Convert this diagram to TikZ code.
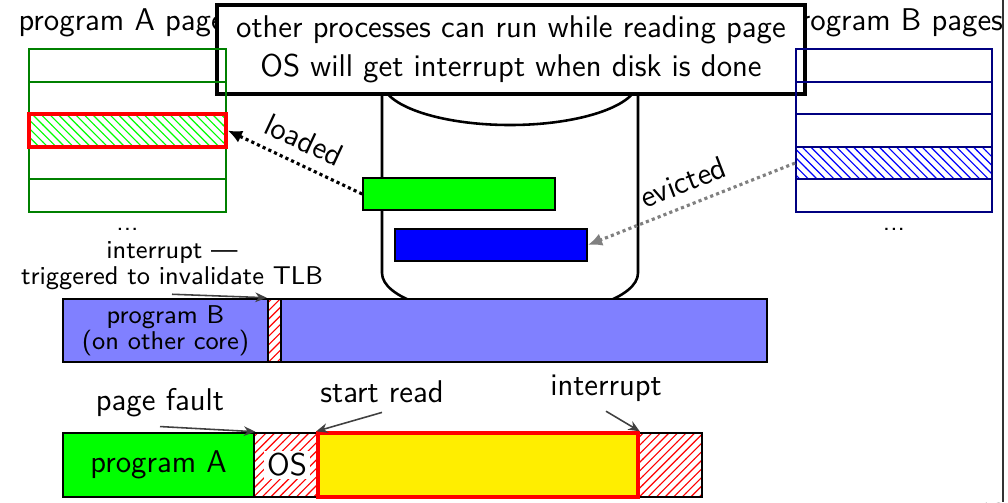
\documentclass[tikz,border=0pt]{standalone}
\usepackage{fontspec}
\usetikzlibrary{patterns,arrows.meta}
% one drawing unit = one pixel of the slide
\def\pxu{0.35pt}
\definecolor{readyellow}{RGB}{255,238,0}
\begin{document}
\begin{tikzpicture}[x=0.35pt,y=-0.35pt,
  every node/.style={font=\sffamily\fontsize{11}{13.65}\selectfont},
  smalltext/.style={font=\sffamily\fontsize{9}{9.1}\selectfont},
  pageA/.style={draw=green!50!black, line width=0.7pt},
  pageB/.style={draw=blue!50!black, line width=0.7pt},
  seg/.style={draw, line width=0.9pt, inner sep=0pt, minimum height={64*\pxu}},
  hatch/.style={preaction={fill=white}, pattern=north east lines, pattern color=red},
  pointer/.style={draw=black!75, line width=0.55pt, -{Stealth[length=4pt,width=3.4pt]}},
  moved/.style={line width=1.1pt, dash pattern=on 1.1pt off 1.1pt, -{Latex[length=5pt,width=4.5pt]}},
]
\useasboundingbox (0,0) rectangle (1008,502);

% slide edge and page number
\draw[black!80, line width=0.5pt] (1003,0) -- (1003,502);
\node[smalltext, text=black!60, anchor=north] (pagenum) at (992,493) {18};

% table titles (partly hidden under the note)
\node[anchor=base] (titleA) at (127.5,30) {program A pages};
\node[anchor=base] (titleB) at (894,30) {program B pages};

% disk
\path[draw, fill=white, line width=0.9pt]
  (382,81) -- (382,273) arc[start angle=180, end angle=0, x radius=128, y radius=44]
  -- (638,81) arc[start angle=0, end angle=-180, x radius=128, y radius=44] -- cycle;
\draw[line width=0.9pt] (382,81) arc[start angle=180, end angle=0, x radius=128, y radius=44];
\node[draw, fill=green, line width=0.6pt, inner sep=0pt,
      minimum width={192*\pxu}, minimum height={32*\pxu}] (diskA) at (459,194) {};
\node[draw, fill=blue, line width=0.6pt, inner sep=0pt,
      minimum width={192*\pxu}, minimum height={32*\pxu}] (diskB) at (491,245) {};

% note
\node[draw, line width=1.1pt, fill=white, align=center, inner sep=0pt,
      minimum width={588*\pxu}, minimum height={89*\pxu}] (note) at (511,49.5)
  {other processes can run while reading page\\OS will get interrupt when disk is done};

% page tables
\foreach \r in {0,...,4}{
  \draw[pageA] (29,{49+32.6*\r}) rectangle (226,{49+32.6*(\r+1)});
  \draw[pageB] (796,{49+32.6*\r}) rectangle (992,{49+32.6*(\r+1)});
}
\node[draw=red, line width=1.2pt, pattern=north west lines, pattern color=green, inner sep=0pt,
      minimum width={197*\pxu}, minimum height={32.6*\pxu}] (rowA) at (127.5,130.5) {};
\node[pageB, pattern=north west lines, pattern color=blue, inner sep=0pt,
      minimum width={196*\pxu}, minimum height={32.6*\pxu}] (rowB) at (894,163.1) {};
\node[smalltext] (moreA) at (127.5,229) {...};
\node[smalltext] (moreB) at (894,229) {...};

% page moves
\draw[moved, draw=black] (diskA.west) -- (rowA.east);
\node[rotate=-25] (lblLoaded) at (304,140) {loaded};
\draw[moved, draw=black!50] (rowB.west) -- (diskB.east);
\node[rotate=21] (lblEvicted) at (683,182) {evicted};

% program B on the other core
\node[seg, fill=blue!50, minimum width={704*\pxu}, minimum height={63*\pxu}] (barB) at (415,330.5) {};
\node[seg, hatch, minimum width={13*\pxu}, minimum height={63*\pxu}] (slot) at (274.5,330.5) {};
\node[smalltext, align=center] (progB) at (165.5,330.5) {program B\\(on other core)};
\node[smalltext, align=center, anchor=base] (tlbNote) at (172,284) {interrupt ---\\triggered to invalidate TLB};
\draw[pointer] ([yshift=1.8pt]tlbNote.south) -- (slot.north west);

% program A timeline
\node[seg, fill=green, minimum width={191*\pxu}] (progA) at (158.5,465) {program A};
\node[seg, hatch, minimum width={64*\pxu}] (osSeg) at (286,465) {};
\node[fill=white, inner sep=1pt] (osLbl) at (287,465) {OS};
\node[seg, hatch, minimum width={64*\pxu}] (tailSeg) at (670,465) {};
\node[seg, fill=readyellow, draw=red, line width=1.2pt, minimum width={320*\pxu}] (readSeg) at (478,465) {};

\node[anchor=base] (lblFault) at (160,410) {page fault};
\node[anchor=base] (lblStart) at (382,402) {start read};
\node[anchor=base] (lblIrq) at (606,395) {interrupt};
\draw[pointer] (lblFault.south) -- (progA.north east);
\draw[pointer] (lblStart.south) -- (readSeg.north west);
\draw[pointer] (lblIrq.south) -- (readSeg.north east);
\end{tikzpicture}
\end{document}
